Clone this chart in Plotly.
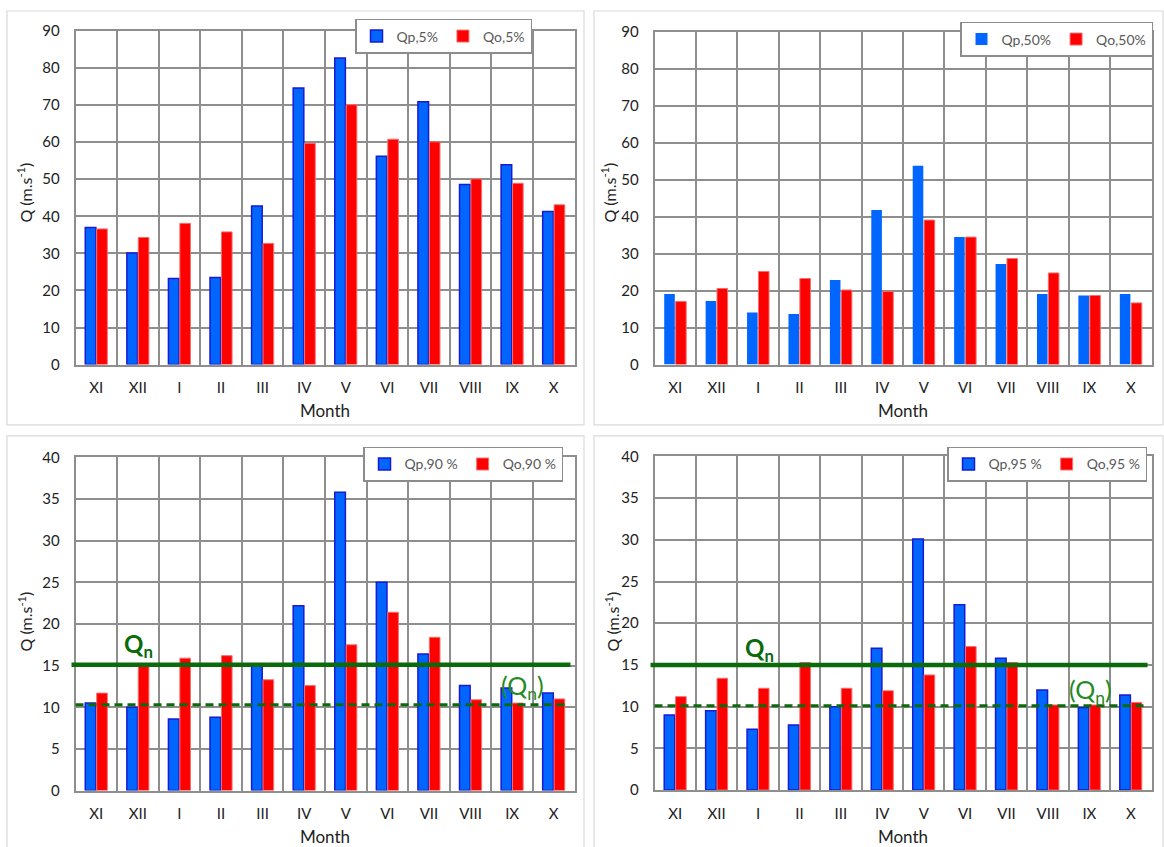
import plotly.graph_objects as go

# ---------------- data ----------------
months = ["XI", "XII", "I", "II", "III", "IV", "V", "VI", "VII", "VIII", "IX", "X"]

qp5 = [37.0, 30.1, 23.2, 23.5, 42.8, 74.6, 82.7, 56.2, 70.9, 48.6, 53.9, 41.3]
qo5 = [36.6, 34.3, 38.1, 35.8, 32.7, 59.7, 70.1, 60.8, 60.1, 50.1, 48.9, 43.1]

qp50 = [19.1, 17.2, 14.1, 13.7, 22.9, 41.8, 53.8, 34.5, 27.2, 19.1, 18.7, 19.1]
qo50 = [17.1, 20.6, 25.2, 23.3, 20.2, 19.8, 39.1, 34.5, 28.7, 24.8, 18.7, 16.7]

qp90 = [10.5, 10.0, 8.6, 8.8, 15.1, 22.2, 35.8, 25.0, 16.4, 12.6, 12.3, 11.7]
qo90 = [11.7, 15.1, 15.9, 16.2, 13.3, 12.6, 17.5, 21.4, 18.4, 10.9, 10.5, 11.0]

qp95 = [9.0, 9.5, 7.3, 7.8, 10.0, 17.0, 30.1, 22.2, 15.8, 12.0, 9.9, 11.4]
qo95 = [11.2, 13.4, 12.2, 15.3, 12.2, 11.9, 13.8, 17.2, 15.3, 10.2, 10.2, 10.5]

qn90, qn90_low = 15.1, 10.3
qn95, qn95_low = 15.0, 10.1

# ---------------- layout helpers ----------------
W, H = 1164, 847
def fx(px):
    return px / W
def fy(py):
    # vertical page position -> paper fraction (with small calibration)
    return 1 - ((py - 9.0) / 0.98) / H

FONT = "Lato, 'Open Sans', sans-serif"
GRID = "#8e8e8e"
BLUE = "#0066ff"
BLUE_LINE = "#1a1ad0"
RED = "#ff0000"
RED_LINE = "#f07070"
GREEN = "#0b6b0b"
GREEN2 = "#238b23"

panels = [
    dict(qp=qp5, qo=qo5, names=("Qp,5%", "Qo,5%"), xd=(75.5, 574.5), yd=(30, 364.5),
         yr=90, dt=10, leg=(532, 18), bline=True, box=(7, 10, 584, 425),
         ytitle=(25, 192), standoff=10),
    dict(qp=qp50, qo=qo50, names=("Qp,50%", "Qo,50%"), xd=(654.5, 1151.5), yd=(31, 364.5),
         yr=90, dt=10, leg=(1153, 21), bline=False, box=(594, 10, 1163, 425),
         ytitle=(609, 192), standoff=10),
    dict(qp=qp90, qo=qo90, names=("Qp,90 %", "Qo,90 %"), xd=(75.5, 574.5), yd=(457.5, 791.5),
         yr=40, dt=5, leg=(563, 447), bline=True, box=(7, 436, 584, 860),
         ytitle=(25, 622), standoff=13),
    dict(qp=qp95, qo=qo95, names=("Qp,95 %", "Qo,95 %"), xd=(654.5, 1151.5), yd=(456.5, 791),
         yr=40, dt=5, leg=(1147, 447), bline=True, box=(594, 436, 1163, 860),
         ytitle=(612, 622), standoff=11),
]

fig = go.Figure()
layout = dict(
    width=W, height=H, margin=dict(l=0, r=0, t=0, b=0),
    paper_bgcolor="white", plot_bgcolor="white",
    barmode="group", bargap=0.45, bargroupgap=0.07,
    font=dict(family=FONT, size=15, color="#222222"),
    showlegend=True,
)
shapes = []
annotations = []

for i, p in enumerate(panels, start=1):
    sfx = "" if i == 1 else str(i)
    legname = "legend" if i == 1 else f"legend{i}"
    bl = dict(color=BLUE_LINE, width=1.5) if p["bline"] else dict(color=BLUE, width=0)
    fig.add_trace(go.Bar(x=months, y=p["qp"], name=p["names"][0],
                         marker=dict(color=BLUE, line=bl),
                         xaxis=f"x{sfx}", yaxis=f"y{sfx}", legend=legname))
    fig.add_trace(go.Bar(x=months, y=p["qo"], name=p["names"][1],
                         marker=dict(color=RED, line=dict(color=RED_LINE, width=1)),
                         xaxis=f"x{sfx}", yaxis=f"y{sfx}", legend=legname))

    layout[f"xaxis{sfx}"] = dict(
        domain=[fx(p["xd"][0]), fx(p["xd"][1])], anchor=f"y{sfx}",
        type="category", tickson="boundaries",
        showgrid=True, gridcolor=GRID, gridwidth=1.5,
        showline=True, linecolor=GRID, linewidth=1.5, mirror=True,
        ticks="outside", ticklen=20, tickcolor="rgba(0,0,0,0)",
        ticklabelstandoff=9,
        tickfont=dict(family=FONT, size=15, color="#222222"),
        title=dict(text="Month", standoff=p["standoff"],
                   font=dict(family=FONT, size=17, color="#222222")),
    )
    layout[f"yaxis{sfx}"] = dict(
        domain=[fy(p["yd"][1]), fy(p["yd"][0])], anchor=f"x{sfx}",
        range=[0, p["yr"]], dtick=p["dt"], tick0=0,
        showgrid=True, gridcolor=GRID, gridwidth=1.5, zeroline=False,
        showline=True, linecolor=GRID, linewidth=1.5, mirror=True,
        ticks="outside", ticklen=11, tickcolor="rgba(0,0,0,0)",
        tickfont=dict(family=FONT, size=15, color="#222222"),
    )
    layout[legname] = dict(
        orientation="h", x=fx(p["leg"][0]), xanchor="right",
        y=fy(p["leg"][1]), yanchor="top",
        bgcolor="white", bordercolor="#8c8c8c", borderwidth=1.5,
        font=dict(family=FONT, size=14, color="#595959"),
        itemwidth=30, tracegroupgap=0,
    )
    b = p["box"]
    shapes.append(dict(type="rect", xref="paper", yref="paper",
                       x0=fx(b[0]), x1=fx(b[2]), y0=fy(b[3]), y1=fy(b[1]),
                       line=dict(color="#d9d9d9", width=1.2), layer="below"))
    annotations.append(dict(text="Q (m.s<sup>-1</sup>)", textangle=-90, showarrow=False,
                            xref="paper", yref="paper",
                            x=fx(p["ytitle"][0]), y=fy(p["ytitle"][1]),
                            xanchor="center", yanchor="middle",
                            font=dict(family=FONT, size=16, color="#222222")))

# Qn lines (panels 3 and 4)
for sfx, qn, qlow, qpos, lpos in [("3", qn90, qn90_low, (138, 646), (522, 688)),
                                  ("4", qn95, qn95_low, (759, 650), (1090, 692))]:
    shapes.append(dict(type="line", xref=f"x{sfx} domain", yref=f"y{sfx}",
                       x0=-0.008, x1=0.992, y0=qn, y1=qn,
                       line=dict(color=GREEN, width=4.5)))
    shapes.append(dict(type="line", xref=f"x{sfx} domain", yref=f"y{sfx}",
                       x0=0.0, x1=0.99, y0=qlow, y1=qlow,
                       line=dict(color=GREEN, width=3, dash="8px,5px")))
    annotations.append(dict(text="<b>Q<sub>n</sub></b>", showarrow=False,
                            xref="paper", yref="paper",
                            x=fx(qpos[0]), y=fy(qpos[1]), xanchor="center", yanchor="middle",
                            font=dict(family=FONT, size=24, color=GREEN)))
    annotations.append(dict(text="(Q<sub>n</sub>)", showarrow=False,
                            xref="paper", yref="paper",
                            x=fx(lpos[0]), y=fy(lpos[1]), xanchor="center", yanchor="middle",
                            font=dict(family=FONT, size=25, color=GREEN2)))

layout["shapes"] = shapes
layout["annotations"] = annotations
fig.update_layout(**layout)

post = ("var d=document.getElementById('{plot_id}');"
        "d.style.position='fixed';d.style.top='0px';d.style.left='0px';"
        "document.body.style.margin='0';"
        "document.documentElement.style.overflow='hidden';"
        "document.body.style.overflow='hidden';")
fig.write_html("out.html", config={"displayModeBar": False}, post_script=post)
